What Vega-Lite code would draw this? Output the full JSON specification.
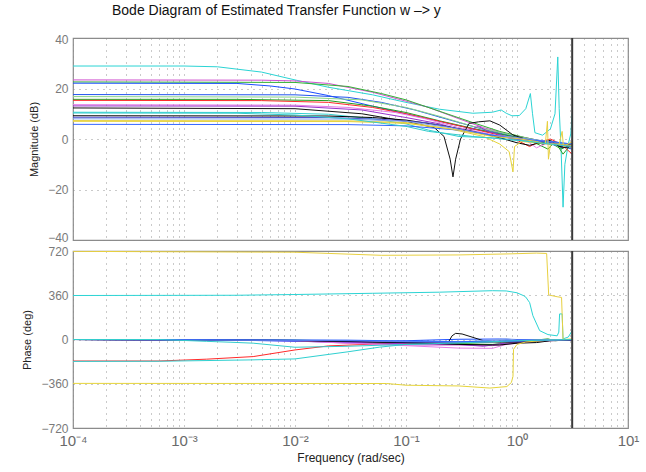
{
"$schema":"https://vega.github.io/schema/vega-lite/v6.json",
"background":"white",
"padding":{"left":21,"top":4,"right":5,"bottom":2},
"bounds":"flush",
"title":{"text":"Bode Diagram of Estimated Transfer Function w –> y","fontSize":14,"fontWeight":"normal","color":"#111","font":"Liberation Sans","anchor":"start","frame":"group","dx":39,"offset":14},
"config":{"font":"Liberation Sans","view":{"stroke":"#8c8c8c","strokeWidth":1.2},
"axis":{"domain":false,"ticks":false,"labelColor":"#7a7a7a","labelFontSize":12,"labelPadding":5,"titleColor":"#222","titleFontSize":11,"titleFontWeight":"normal","titlePadding":8,"grid":true,"gridColor":"#8a8a8a","gridDash":[1,5],"gridWidth":1,"gridOpacity":0.9}},
"spacing":11,
"datasets":{
"nyq":[{"w":3.1416}],
"mag":[
{"s":"s1","w":0.0001,"m":28.9},{"s":"s1","w":0.001,"m":28.9},{"s":"s1","w":0.002,"m":28.6},{"s":"s1","w":0.005,"m":26.5},{"s":"s1","w":0.01,"m":23.4},{"s":"s1","w":0.02,"m":20.5},{"s":"s1","w":0.05,"m":17.5},{"s":"s1","w":0.1,"m":14.5},{"s":"s1","w":0.2,"m":11.8},{"s":"s1","w":0.4,"m":10.2},{"s":"s1","w":0.6,"m":10.6},{"s":"s1","w":0.72,"m":11.5},{"s":"s1","w":0.8,"m":10.2},{"s":"s1","w":0.9,"m":9.2},{"s":"s1","w":1.05,"m":9.3},{"s":"s1","w":1.2,"m":12},{"s":"s1","w":1.32,"m":18},{"s":"s1","w":1.38,"m":10},{"s":"s1","w":1.45,"m":2.5},{"s":"s1","w":1.7,"m":1.5},{"s":"s1","w":2.0,"m":4},{"s":"s1","w":2.2,"m":10},{"s":"s1","w":2.33,"m":32.5},{"s":"s1","w":2.4,"m":12},{"s":"s1","w":2.5,"m":-5},{"s":"s1","w":2.6,"m":-27},{"s":"s1","w":2.7,"m":-10},{"s":"s1","w":2.9,"m":-2},{"s":"s1","w":3.05,"m":2},{"s":"s1","w":3.14,"m":10},
{"s":"s2","w":0.0001,"m":23.4},{"s":"s2","w":0.005,"m":23.3},{"s":"s2","w":0.01,"m":23},{"s":"s2","w":0.02,"m":22},{"s":"s2","w":0.05,"m":18.5},{"s":"s2","w":0.1,"m":15},{"s":"s2","w":0.16,"m":12.5},{"s":"s2","w":0.3,"m":8},{"s":"s2","w":0.5,"m":4.5},{"s":"s2","w":0.8,"m":2},{"s":"s2","w":1.2,"m":0.5},{"s":"s2","w":2,"m":-1.5},{"s":"s2","w":3.14,"m":-3},
{"s":"s3","w":0.0001,"m":22.6},{"s":"s3","w":0.01,"m":22.4},{"s":"s3","w":0.03,"m":20.8},{"s":"s3","w":0.06,"m":18},{"s":"s3","w":0.1,"m":15.5},{"s":"s3","w":0.2,"m":11},{"s":"s3","w":0.4,"m":6.5},{"s":"s3","w":0.7,"m":3},{"s":"s3","w":1.2,"m":0.5},{"s":"s3","w":2,"m":-1.5},{"s":"s3","w":2.5,"m":-4},{"s":"s3","w":3.14,"m":-2},
{"s":"s4","w":0.0001,"m":22.1},{"s":"s4","w":0.003,"m":22},{"s":"s4","w":0.006,"m":21},{"s":"s4","w":0.01,"m":19.8},{"s":"s4","w":0.02,"m":17.2},{"s":"s4","w":0.05,"m":13},{"s":"s4","w":0.1,"m":10},{"s":"s4","w":0.2,"m":7},{"s":"s4","w":0.4,"m":4},{"s":"s4","w":0.8,"m":1.5},{"s":"s4","w":1.5,"m":-0.5},{"s":"s4","w":2.2,"m":-2},{"s":"s4","w":3.14,"m":-3},
{"s":"s5","w":0.0001,"m":17.6},{"s":"s5","w":0.01,"m":17.5},{"s":"s5","w":0.03,"m":16.5},{"s":"s5","w":0.06,"m":14.5},{"s":"s5","w":0.12,"m":11.5},{"s":"s5","w":0.25,"m":7.5},{"s":"s5","w":0.5,"m":3.8},{"s":"s5","w":1,"m":0.8},{"s":"s5","w":1.6,"m":-1.5},{"s":"s5","w":2.3,"m":-2.5},{"s":"s5","w":3.14,"m":-4},
{"s":"s6","w":0.0001,"m":16.8},{"s":"s6","w":0.01,"m":16.6},{"s":"s6","w":0.04,"m":15.5},{"s":"s6","w":0.1,"m":12.5},{"s":"s6","w":0.2,"m":9},{"s":"s6","w":0.4,"m":5},{"s":"s6","w":0.8,"m":2},{"s":"s6","w":1.5,"m":-0.5},{"s":"s6","w":2.2,"m":-2},{"s":"s6","w":3.14,"m":-2.5},
{"s":"s7","w":0.0001,"m":15.7},{"s":"s7","w":0.003,"m":15.7},{"s":"s7","w":0.02,"m":15.2},{"s":"s7","w":0.05,"m":13},{"s":"s7","w":0.1,"m":10.5},{"s":"s7","w":0.2,"m":7.2},{"s":"s7","w":0.4,"m":4.2},{"s":"s7","w":0.8,"m":1.5},{"s":"s7","w":1.3,"m":-0.5},{"s":"s7","w":1.9,"m":-4},{"s":"s7","w":2.2,"m":-1},{"s":"s7","w":2.6,"m":-6},{"s":"s7","w":3.14,"m":-1.5},
{"s":"s8","w":0.0001,"m":15.3},{"s":"s8","w":0.005,"m":15.2},{"s":"s8","w":0.02,"m":14.5},{"s":"s8","w":0.05,"m":12.5},{"s":"s8","w":0.1,"m":10},{"s":"s8","w":0.2,"m":7},{"s":"s8","w":0.4,"m":4},{"s":"s8","w":0.7,"m":1.5},{"s":"s8","w":1,"m":-0.5},{"s":"s8","w":1.3,"m":-3},{"s":"s8","w":1.5,"m":-1.5},{"s":"s8","w":2,"m":0},{"s":"s8","w":2.5,"m":-2},{"s":"s8","w":3.14,"m":-6},
{"s":"s9","w":0.0001,"m":13.6},{"s":"s9","w":0.01,"m":13.4},{"s":"s9","w":0.03,"m":12.5},{"s":"s9","w":0.08,"m":10.5},{"s":"s9","w":0.15,"m":8},{"s":"s9","w":0.3,"m":4.5},{"s":"s9","w":0.5,"m":2.5},{"s":"s9","w":0.8,"m":0.5},{"s":"s9","w":1.2,"m":-0.5},{"s":"s9","w":1.5,"m":-3.5},{"s":"s9","w":2,"m":-1},{"s":"s9","w":3.14,"m":-3},
{"s":"s10","w":0.0001,"m":13.1},{"s":"s10","w":0.01,"m":13},{"s":"s10","w":0.04,"m":11.5},{"s":"s10","w":0.1,"m":8.5},{"s":"s10","w":0.2,"m":6},{"s":"s10","w":0.35,"m":3},{"s":"s10","w":0.45,"m":5},{"s":"s10","w":0.55,"m":3},{"s":"s10","w":0.8,"m":1},{"s":"s10","w":1.4,"m":-0.5},{"s":"s10","w":2.2,"m":-2},{"s":"s10","w":3.14,"m":-2.5},
{"s":"s11","w":0.0001,"m":12.3},{"s":"s11","w":0.01,"m":12},{"s":"s11","w":0.04,"m":10},{"s":"s11","w":0.1,"m":7},{"s":"s11","w":0.18,"m":4.5},{"s":"s11","w":0.22,"m":1},{"s":"s11","w":0.25,"m":-8},{"s":"s11","w":0.265,"m":-15},{"s":"s11","w":0.28,"m":-8},{"s":"s11","w":0.31,"m":0},{"s":"s11","w":0.37,"m":6.2},{"s":"s11","w":0.45,"m":6.8},{"s":"s11","w":0.57,"m":7.2},{"s":"s11","w":0.7,"m":5.5},{"s":"s11","w":0.92,"m":1.6},{"s":"s11","w":1.4,"m":-1},{"s":"s11","w":1.7,"m":-2},{"s":"s11","w":2.2,"m":-1},{"s":"s11","w":2.5,"m":-3.5},{"s":"s11","w":3.14,"m":-3},
{"s":"s12","w":0.0001,"m":10.6},{"s":"s12","w":0.005,"m":10.5},{"s":"s12","w":0.02,"m":9.8},{"s":"s12","w":0.05,"m":8},{"s":"s12","w":0.1,"m":6},{"s":"s12","w":0.16,"m":3.5},{"s":"s12","w":0.3,"m":1},{"s":"s12","w":0.6,"m":0.5},{"s":"s12","w":1,"m":-0.5},{"s":"s12","w":2,"m":-1.5},{"s":"s12","w":3.14,"m":-2},
{"s":"s13","w":0.0001,"m":9.2},{"s":"s13","w":0.02,"m":9.1},{"s":"s13","w":0.05,"m":8.5},{"s":"s13","w":0.1,"m":7.5},{"s":"s13","w":0.2,"m":5.5},{"s":"s13","w":0.4,"m":3},{"s":"s13","w":0.7,"m":0.5},{"s":"s13","w":1,"m":-1.5},{"s":"s13","w":1.3,"m":-2.5},{"s":"s13","w":1.6,"m":-1.5},{"s":"s13","w":2,"m":-0.5},{"s":"s13","w":2.4,"m":-3},{"s":"s13","w":3.14,"m":-2},
{"s":"s14","w":0.0001,"m":8.6},{"s":"s14","w":0.02,"m":8.5},{"s":"s14","w":0.06,"m":7.8},{"s":"s14","w":0.15,"m":6.5},{"s":"s14","w":0.3,"m":4},{"s":"s14","w":0.6,"m":1.5},{"s":"s14","w":1,"m":0},{"s":"s14","w":1.8,"m":-1},{"s":"s14","w":3.14,"m":-3},
{"s":"s15","w":0.0001,"m":8},{"s":"s15","w":0.03,"m":7.9},{"s":"s15","w":0.1,"m":7},{"s":"s15","w":0.25,"m":4.5},{"s":"s15","w":0.5,"m":2},{"s":"s15","w":1,"m":0.5},{"s":"s15","w":2,"m":-1},{"s":"s15","w":3.14,"m":-2},
{"s":"s16","w":0.0001,"m":7},{"s":"s16","w":0.03,"m":6.9},{"s":"s16","w":0.1,"m":6.2},{"s":"s16","w":0.25,"m":4},{"s":"s16","w":0.5,"m":1},{"s":"s16","w":0.7,"m":-2},{"s":"s16","w":0.85,"m":-5},{"s":"s16","w":0.92,"m":-13},{"s":"s16","w":0.95,"m":-3},{"s":"s16","w":1.1,"m":-1},{"s":"s16","w":1.5,"m":-1.5},{"s":"s16","w":2,"m":-2},{"s":"s16","w":3.14,"m":-2.5},
{"s":"s17","w":0.0001,"m":5.8},{"s":"s17","w":0.03,"m":5.7},{"s":"s17","w":0.1,"m":5.2},{"s":"s17","w":0.3,"m":3.5},{"s":"s17","w":0.6,"m":1.5},{"s":"s17","w":1,"m":0},{"s":"s17","w":2,"m":-1},{"s":"s17","w":3.14,"m":-2},
{"s":"s18","w":0.0001,"m":7.3},{"s":"s18","w":0.03,"m":7.2},{"s":"s18","w":0.1,"m":6.5},{"s":"s18","w":0.3,"m":3.5},{"s":"s18","w":0.6,"m":1},{"s":"s18","w":1,"m":0.2},{"s":"s18","w":1.5,"m":-1},{"s":"s18","w":1.8,"m":-2},{"s":"s18","w":1.88,"m":7},{"s":"s18","w":1.92,"m":-8},{"s":"s18","w":2.0,"m":-2},{"s":"s18","w":2.4,"m":-2},{"s":"s18","w":2.55,"m":3},{"s":"s18","w":2.62,"m":-3},{"s":"s18","w":3.14,"m":-1},
{"s":"s19","w":0.0001,"m":10.3},{"s":"s19","w":0.003,"m":10.2},{"s":"s19","w":0.01,"m":9.5},{"s":"s19","w":0.03,"m":8},{"s":"s19","w":0.1,"m":5},{"s":"s19","w":0.16,"m":3},{"s":"s19","w":0.4,"m":1},{"s":"s19","w":1,"m":-0.5},{"s":"s19","w":3.14,"m":-3}
],
"phase":[
{"s":"s1","w":0.0001,"p":358},{"s":"s1","w":0.003,"p":360},{"s":"s1","w":0.01,"p":366},{"s":"s1","w":0.05,"p":376},{"s":"s1","w":0.2,"p":385},{"s":"s1","w":0.6,"p":397},{"s":"s1","w":0.8,"p":395},{"s":"s1","w":1.0,"p":380},{"s":"s1","w":1.15,"p":356},{"s":"s1","w":1.2,"p":345},{"s":"s1","w":1.3,"p":300},{"s":"s1","w":1.39,"p":194},{"s":"s1","w":1.6,"p":72},{"s":"s1","w":1.9,"p":40},{"s":"s1","w":2.3,"p":30},{"s":"s1","w":2.38,"p":60},{"s":"s1","w":2.42,"p":208},{"s":"s1","w":2.55,"p":208},{"s":"s1","w":2.6,"p":5},{"s":"s1","w":2.9,"p":20},{"s":"s1","w":3.14,"p":72},
{"s":"s2","w":0.0001,"p":0},{"s":"s2","w":0.003,"p":-3},{"s":"s2","w":0.01,"p":-12},{"s":"s2","w":0.03,"p":-30},{"s":"s2","w":0.1,"p":-45},{"s":"s2","w":0.3,"p":-45},{"s":"s2","w":0.6,"p":-50},{"s":"s2","w":1,"p":-25},{"s":"s2","w":2,"p":-10},{"s":"s2","w":3.14,"p":-5},
{"s":"s3","w":0.0001,"p":0},{"s":"s3","w":0.01,"p":-5},{"s":"s3","w":0.03,"p":-15},{"s":"s3","w":0.1,"p":-28},{"s":"s3","w":0.3,"p":-30},{"s":"s3","w":1,"p":-15},{"s":"s3","w":2,"p":-5},{"s":"s3","w":3.14,"p":0},
{"s":"s4","w":0.0001,"p":0},{"s":"s4","w":0.003,"p":-5},{"s":"s4","w":0.01,"p":-15},{"s":"s4","w":0.03,"p":-20},{"s":"s4","w":0.1,"p":-10},{"s":"s4","w":0.3,"p":2},{"s":"s4","w":0.7,"p":4},{"s":"s4","w":1,"p":0},{"s":"s4","w":2,"p":0},{"s":"s4","w":3.14,"p":-2},
{"s":"s5","w":0.0001,"p":0},{"s":"s5","w":0.01,"p":-8},{"s":"s5","w":0.03,"p":-20},{"s":"s5","w":0.1,"p":-30},{"s":"s5","w":0.3,"p":-22},{"s":"s5","w":1,"p":-12},{"s":"s5","w":2,"p":-6},{"s":"s5","w":3.14,"p":-3},
{"s":"s6","w":0.0001,"p":0},{"s":"s6","w":0.01,"p":-6},{"s":"s6","w":0.04,"p":-20},{"s":"s6","w":0.1,"p":-30},{"s":"s6","w":0.3,"p":-30},{"s":"s6","w":1,"p":-15},{"s":"s6","w":3.14,"p":-2},
{"s":"s7","w":0.0001,"p":0},{"s":"s7","w":0.003,"p":-2},{"s":"s7","w":0.02,"p":-12},{"s":"s7","w":0.1,"p":-25},{"s":"s7","w":0.3,"p":-35},{"s":"s7","w":0.6,"p":-40},{"s":"s7","w":1,"p":-20},{"s":"s7","w":1.9,"p":5},{"s":"s7","w":2.2,"p":-10},{"s":"s7","w":3.14,"p":0},
{"s":"s8","w":0.0001,"p":-175},{"s":"s8","w":0.0006,"p":-175},{"s":"s8","w":0.0016,"p":-160},{"s":"s8","w":0.0042,"p":-139},{"s":"s8","w":0.01,"p":-85},{"s":"s8","w":0.02,"p":-52},{"s":"s8","w":0.05,"p":-38},{"s":"s8","w":0.1,"p":-30},{"s":"s8","w":0.3,"p":-25},{"s":"s8","w":1,"p":-10},{"s":"s8","w":2,"p":-5},{"s":"s8","w":3.14,"p":0},
{"s":"s9","w":0.0001,"p":0},{"s":"s9","w":0.01,"p":-10},{"s":"s9","w":0.03,"p":-30},{"s":"s9","w":0.1,"p":-50},{"s":"s9","w":0.3,"p":-70},{"s":"s9","w":0.6,"p":-72},{"s":"s9","w":0.8,"p":-40},{"s":"s9","w":1.3,"p":-20},{"s":"s9","w":2,"p":-8},{"s":"s9","w":3.14,"p":-3},
{"s":"s10","w":0.0001,"p":0},{"s":"s10","w":0.01,"p":-8},{"s":"s10","w":0.04,"p":-25},{"s":"s10","w":0.1,"p":-35},{"s":"s10","w":0.3,"p":-40},{"s":"s10","w":0.5,"p":-55},{"s":"s10","w":0.7,"p":-35},{"s":"s10","w":1,"p":-20},{"s":"s10","w":2,"p":-5},{"s":"s10","w":3.14,"p":0},
{"s":"s11","w":0.0001,"p":0},{"s":"s11","w":0.003,"p":-2},{"s":"s11","w":0.01,"p":-8},{"s":"s11","w":0.05,"p":-20},{"s":"s11","w":0.15,"p":-28},{"s":"s11","w":0.24,"p":-25},{"s":"s11","w":0.26,"p":30},{"s":"s11","w":0.28,"p":50},{"s":"s11","w":0.32,"p":45},{"s":"s11","w":0.5,"p":-10},{"s":"s11","w":0.7,"p":-20},{"s":"s11","w":1,"p":-20},{"s":"s11","w":2,"p":-8},{"s":"s11","w":3.14,"p":0},
{"s":"s12","w":0.0001,"p":-178},{"s":"s12","w":0.0006,"p":-177},{"s":"s12","w":0.004,"p":-166},{"s":"s12","w":0.01,"p":-158},{"s":"s12","w":0.03,"p":-100},{"s":"s12","w":0.058,"p":-62},{"s":"s12","w":0.1,"p":-40},{"s":"s12","w":0.3,"p":-25},{"s":"s12","w":1,"p":-10},{"s":"s12","w":3.14,"p":0},
{"s":"s13","w":0.0001,"p":0},{"s":"s13","w":0.02,"p":-10},{"s":"s13","w":0.1,"p":-25},{"s":"s13","w":0.3,"p":-40},{"s":"s13","w":0.7,"p":-45},{"s":"s13","w":1,"p":-30},{"s":"s13","w":1.5,"p":-25},{"s":"s13","w":2,"p":-10},{"s":"s13","w":3.14,"p":-5},
{"s":"s14","w":0.0001,"p":0},{"s":"s14","w":0.02,"p":-8},{"s":"s14","w":0.1,"p":-20},{"s":"s14","w":0.3,"p":-25},{"s":"s14","w":1,"p":-15},{"s":"s14","w":3.14,"p":-3},
{"s":"s15","w":0.0001,"p":0},{"s":"s15","w":0.03,"p":-8},{"s":"s15","w":0.1,"p":-15},{"s":"s15","w":0.3,"p":-20},{"s":"s15","w":0.6,"p":-5},{"s":"s15","w":0.8,"p":5},{"s":"s15","w":1,"p":-5},{"s":"s15","w":3.14,"p":0},
{"s":"s16","w":0.0001,"p":-357},{"s":"s16","w":0.067,"p":-358},{"s":"s16","w":0.1,"p":-372},{"s":"s16","w":0.3,"p":-378},{"s":"s16","w":0.57,"p":-395},{"s":"s16","w":0.81,"p":-383},{"s":"s16","w":0.89,"p":-350},{"s":"s16","w":0.92,"p":-300},{"s":"s16","w":0.93,"p":-80},{"s":"s16","w":1.0,"p":-40},{"s":"s16","w":1.2,"p":-20},{"s":"s16","w":2,"p":-5},{"s":"s16","w":3.14,"p":0},
{"s":"s17","w":0.0001,"p":0},{"s":"s17","w":0.03,"p":-5},{"s":"s17","w":0.1,"p":-12},{"s":"s17","w":0.3,"p":-18},{"s":"s17","w":1,"p":-10},{"s":"s17","w":3.14,"p":-2},
{"s":"s18","w":0.0001,"p":717},{"s":"s18","w":0.01,"p":710},{"s":"s18","w":0.06,"p":685},{"s":"s18","w":0.3,"p":688},{"s":"s18","w":0.9,"p":697},{"s":"s18","w":1.5,"p":703},{"s":"s18","w":1.85,"p":700},{"s":"s18","w":1.93,"p":362},{"s":"s18","w":2.3,"p":348},{"s":"s18","w":2.52,"p":342},{"s":"s18","w":2.6,"p":0},{"s":"s18","w":3.14,"p":5},
{"s":"s19","w":0.0001,"p":0},{"s":"s19","w":0.0006,"p":0},{"s":"s19","w":0.0016,"p":-15},{"s":"s19","w":0.0026,"p":-22},{"s":"s19","w":0.0042,"p":-30},{"s":"s19","w":0.01,"p":-63},{"s":"s19","w":0.03,"p":-55},{"s":"s19","w":0.1,"p":-40},{"s":"s19","w":0.3,"p":-28},{"s":"s19","w":1,"p":-10},{"s":"s19","w":3.14,"p":0}
]},
"vconcat":[
{"width":555,"height":202,
"layer":[
{"data":{"name":"mag"},"mark":{"type":"line","clip":true,"strokeWidth":1},
"encoding":{
"x":{"field":"w","type":"quantitative","scale":{"type":"log","domain":[0.0001,10],"nice":false},
"axis":{"title":null,"labels":false,"labelPadding":0,"minExtent":0,"maxExtent":0,"offset":0,"values":[0.0001,0.0002,0.0003,0.0004,0.0005,0.0006,0.0007,0.0008,0.0009,0.001,0.002,0.003,0.004,0.005,0.006,0.007,0.008,0.009,0.01,0.02,0.03,0.04,0.05,0.06,0.07,0.08,0.09,0.1,0.2,0.3,0.4,0.5,0.6,0.7,0.8,0.9,1,2,3,4,5,6,7,8,9,10]}},
"y":{"field":"m","type":"quantitative","scale":{"domain":[-40,40],"nice":false},"axis":{"title":"Magnitude (dB)","values":[-40,-20,0,20,40],"labelFlush":true,"labelFlushOffset":4}},
"color":{"field":"s","type":"nominal","legend":null,"scale":{"domain":["s1","s2","s3","s4","s5","s6","s7","s8","s9","s10","s11","s12","s13","s14","s15","s16","s17","s18","s19"],"range":["#2bd4d4","#d050d0","#33b033","#1a4cff","#2255ee","#88d488","#22a022","#ff2a2a","#e77be7","#9933cc","#111111","#2fd0d0","#000000","#5050d0","#7fa0e8","#e6d43a","#3366ff","#e8d040","#33cccc"]}},
"strokeWidth":{"condition":{"test":"datum.s==='s13'","value":2},"value":1}}},
{"data":{"name":"nyq"},"mark":{"type":"rule","color":"#3a3a3a","strokeWidth":2},"encoding":{"x":{"field":"w","type":"quantitative"}}}
]},
{"width":555,"height":177,
"layer":[
{"data":{"name":"phase"},"mark":{"type":"line","clip":true,"strokeWidth":1},
"encoding":{
"x":{"field":"w","type":"quantitative","scale":{"type":"log","domain":[0.0001,10],"nice":false},
"axis":{"title":"Frequency  (rad/sec)","titleFontSize":12,"titlePadding":4,"labelFontSize":15,"labelColor":"#6a6a6a","labelFlush":false,"labelOverlap":false,"labelPadding":5,"values":[0.0001,0.0002,0.0003,0.0004,0.0005,0.0006,0.0007,0.0008,0.0009,0.001,0.002,0.003,0.004,0.005,0.006,0.007,0.008,0.009,0.01,0.02,0.03,0.04,0.05,0.06,0.07,0.08,0.09,0.1,0.2,0.3,0.4,0.5,0.6,0.7,0.8,0.9,1,2,3,4,5,6,7,8,9,10],
"labelExpr":"datum.value===0.0001?'10⁻⁴':datum.value===0.001?'10⁻³':datum.value===0.01?'10⁻²':datum.value===0.1?'10⁻¹':datum.value===1?'10⁰':datum.value===10?'10¹':''"}},
"y":{"field":"p","type":"quantitative","scale":{"domain":[-720,720],"nice":false},"axis":{"title":"Phase (deg)","values":[-720,-360,0,360,720]}},
"color":{"field":"s","type":"nominal","legend":null,"scale":{"domain":["s1","s2","s3","s4","s5","s6","s7","s8","s9","s10","s11","s12","s13","s14","s15","s16","s17","s18","s19"],"range":["#2bd4d4","#d050d0","#33b033","#1a4cff","#2255ee","#88d488","#22a022","#ff2a2a","#e77be7","#9933cc","#111111","#2fd0d0","#000000","#5050d0","#7fa0e8","#e6d43a","#3366ff","#e8d040","#33cccc"]}},
"strokeWidth":{"condition":{"test":"datum.s==='s13'","value":2},"value":1}}},
{"data":{"name":"nyq"},"mark":{"type":"rule","color":"#3a3a3a","strokeWidth":2},"encoding":{"x":{"field":"w","type":"quantitative"}}}
]}
]
}
